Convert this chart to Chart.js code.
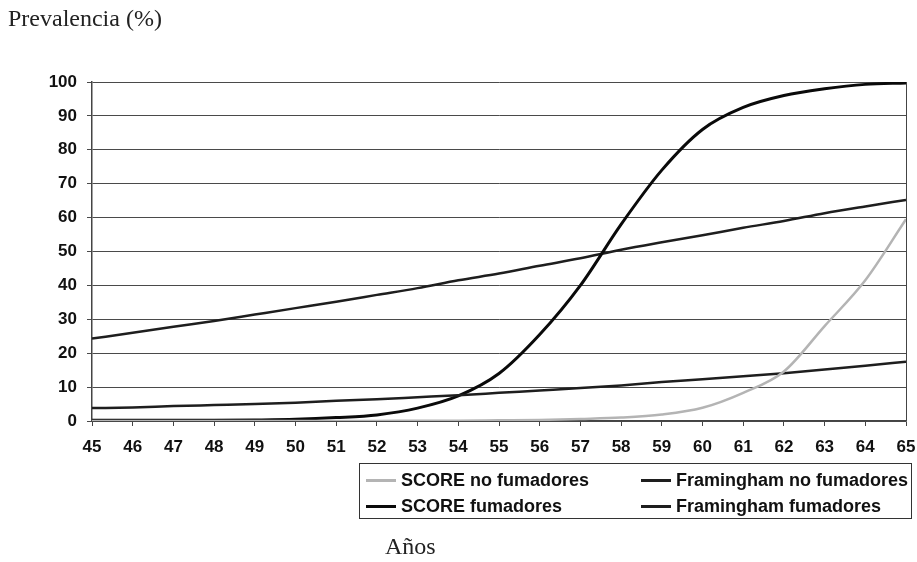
<!DOCTYPE html>
<html>
<head>
<meta charset="utf-8">
<script src="https://cdn.jsdelivr.net/npm/chart.js@4.4.1/dist/chart.umd.min.js"></script>
<style>
  body { margin: 0; background: #fff; }
  #wrap { position: relative; width: 917px; height: 562px; }
  #chart { position: absolute; left: 0; top: 0; }
  .serif { position: absolute; font-family: "Liberation Serif", serif; font-size: 24px; color: #222; }
  #ytitle { left: 8px; top: 5px; }
  #xtitle { left: 385px; top: 533px; }
  #legend {
    position: absolute; left: 359px; top: 463px; width: 553px; height: 56px;
    border: 1px solid #333; box-sizing: border-box;
    font-family: "Liberation Sans", Arial, sans-serif; font-weight: bold; font-size: 18px; color: #111;
  }
  .item { position: absolute; display: flex; align-items: center; height: 24px; }
  .swatch { width: 30px; height: 3px; margin-right: 5px; }
</style>
</head>
<body>
<div id="wrap">
  <canvas id="chart" width="917" height="562"></canvas>
  <div id="ytitle" class="serif">Prevalencia (%)</div>
  <div id="xtitle" class="serif">Años</div>
  <div id="legend"></div>
</div>
<script>
const years = [45, 46, 47, 48, 49, 50, 51, 52, 53, 54, 55, 56, 57, 58, 59, 60, 61, 62, 63, 64, 65];

const scoreNoFumadores = [0, 0, 0, 0, 0, 0, 0, 0, 0.1, 0.1, 0.2, 0.3, 0.6, 1.0, 1.9, 3.9, 8.3, 14.6, 28, 41.5, 59.5];
const framinghamNoFumadores = [3.8, 4.0, 4.4, 4.7, 5.0, 5.4, 6.0, 6.4, 7.0, 7.6, 8.3, 9.0, 9.7, 10.5, 11.5, 12.3, 13.2, 14.1, 15.2, 16.3, 17.5];
const scoreFumadores = [0.2, 0.2, 0.2, 0.2, 0.3, 0.5, 1.0, 1.8, 3.8, 7.4, 14, 25.5, 40, 58, 74, 86, 92.5, 96, 98, 99.3, 99.7];
const framinghamFumadores = [24.3, 26, 27.8, 29.5, 31.4, 33.3, 35.2, 37.2, 39.2, 41.5, 43.5, 45.8, 48, 50.5, 52.7, 54.8, 57, 59, 61.3, 63.3, 65.2];

const yTicks = [0, 10, 20, 30, 40, 50, 60, 70, 80, 90, 100];

function points(values) {
  return years.map((y, i) => ({ x: y, y: values[i] }));
}

const ctx = document.getElementById("chart").getContext("2d");

const chart = new Chart(ctx, {
  type: "line",
  data: {
    datasets: [
      { label: "SCORE no fumadores", data: points(scoreNoFumadores), borderColor: "#b4b4b4", borderWidth: 2.5 },
      { label: "Framingham no fumadores", data: points(framinghamNoFumadores), borderColor: "#1e1e1e", borderWidth: 2.5 },
      { label: "SCORE fumadores", data: points(scoreFumadores), borderColor: "#0a0a0a", borderWidth: 3 },
      { label: "Framingham fumadores", data: points(framinghamFumadores), borderColor: "#1e1e1e", borderWidth: 2.5 },
    ],
  },
  options: {
    responsive: false,
    animation: false,
    layout: { padding: { left: 0, right: 0, top: 82, bottom: 106 } },
    elements: {
      point: { radius: 0 },
      line: { tension: 0.4, cubicInterpolationMode: "monotone", fill: false },
    },
    plugins: { legend: { display: false }, tooltip: { enabled: false } },
    scales: {
      x: {
        type: "linear",
        min: 45,
        max: 65,
        afterFit: (scale) => { scale.height = 35; scale.paddingRight = 11; },
        ticks: {
          stepSize: 1,
          padding: 11,
          color: "#111",
          font: { family: "Liberation Sans", weight: "bold", size: 17 },
        },
        grid: {
          color: (c) => (c.tick && c.tick.value === 65 ? "#444" : "rgba(0,0,0,0)"),
          tickColor: "#444",
          tickLength: 5,
          lineWidth: 1,
        },
        border: { color: "#444", width: 1.5 },
      },
      y: {
        min: 0,
        max: 100,
        afterFit: (scale) => { scale.width = 92; },
        afterBuildTicks: (scale) => { scale.ticks = yTicks.map((v) => ({ value: v })); },
        ticks: {
          padding: 10,
          color: "#111",
          font: { family: "Liberation Sans", weight: "bold", size: 17 },
        },
        grid: { color: "#4a4a4a", tickColor: "#4a4a4a", tickLength: 5, lineWidth: 1 },
        border: { color: "#444", width: 1.5 },
      },
    },
  },
});

// legend built from the chart's datasets, two columns
const legend = document.getElementById("legend");
const cols = [6, 281];
const rows = [4, 30];
chart.data.datasets.forEach((ds, k) => {
  const item = document.createElement("div");
  item.className = "item";
  item.style.left = cols[k % 2] + "px";
  item.style.top = rows[Math.floor(k / 2)] + "px";
  const sw = document.createElement("span");
  sw.className = "swatch";
  sw.style.background = ds.borderColor;
  const txt = document.createElement("span");
  txt.textContent = ds.label;
  item.appendChild(sw);
  item.appendChild(txt);
  legend.appendChild(item);
});
</script>
</body>
</html>
